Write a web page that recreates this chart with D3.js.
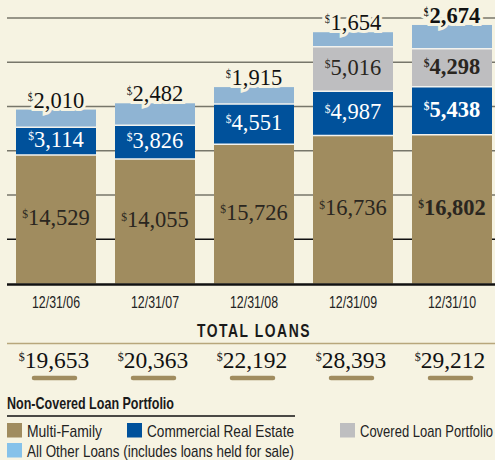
<!DOCTYPE html>
<html lang="en">
<head>
<meta charset="utf-8">
<title>Total Loans</title>
<script src="https://d3js.org/d3.v7.min.js"></script>
<style>
  html, body { margin: 0; padding: 0; background: #F6F3E2; }
  svg { display: block; }
  .serif { font-family: "Liberation Serif", "DejaVu Serif", serif; }
  .narrow { font-family: "Liberation Sans Narrow", "Liberation Sans", Arial, sans-serif; }
</style>
</head>
<body>
<svg id="chart" width="495" height="460"></svg>
<script>
// data (in thousands of $)
const dates = ["12/31/06", "12/31/07", "12/31/08", "12/31/09", "12/31/10"];
const multiFamily = [14529, 14055, 15726, 16736, 16802];
const commercial = [3114, 3826, 4551, 4987, 5438];
const covered = [0, 0, 0, 5016, 4298];
const otherLoans = [2010, 2482, 1915, 1654, 2674];
const totals = [19653, 20363, 22192, 28393, 29212];
const gridTicks = [5000, 10000, 15000, 20000, 25000, 30000];

const seriesNames = ["Multi-Family", "Commercial Real Estate", "Covered Loan Portfolio", "All Other Loans"];
const colors = ["#A08C5F", "#00519B", "#BEBEC0", "#8FB4D3"];
const labelColors = ["#2a2620", "#ffffff", "#2a2620", "#111111"];

const bg = "#F6F3E2";
const svg = d3.select("#chart");

const x = d3.scaleBand()
  .domain(dates)
  .range([6.5, 501.5])
  .paddingInner(0.192)
  .paddingOuter(0.096);

const y = d3.scaleLinear()
  .domain([0, 32000])
  .range([283.5, 0.3]);

// grid lines
svg.append("g")
  .selectAll("line")
  .data(gridTicks)
  .join("line")
  .attr("x1", 7).attr("x2", 495)
  .attr("y1", d => y(d)).attr("y2", d => y(d))
  .attr("stroke", d => d <= 5000 ? "#111" : "#77766a")
  .attr("stroke-width", 1.5);

// stack rows
const rows = dates.map((d, i) => ({
  date: d,
  values: [multiFamily[i], commercial[i], covered[i], otherLoans[i]]
}));

const segs = [];
rows.forEach((r, i) => {
  let base = 0;
  r.values.forEach((v, k) => {
    if (v > 0) segs.push({ date: r.date, k: k, y0: base, y1: base + v, v: v, last: i === rows.length - 1 });
    base += v;
  });
});

const bars = svg.append("g");
bars.selectAll("rect")
  .data(segs)
  .join("rect")
  .attr("x", d => x(d.date))
  .attr("width", x.bandwidth())
  .attr("y", d => y(d.y1))
  .attr("height", d => y(d.y0) - y(d.y1))
  .attr("fill", d => colors[d.k]);

// thin white separators between segments
bars.selectAll("line")
  .data(segs.filter(d => d.y0 > 0))
  .join("line")
  .attr("x1", d => x(d.date)).attr("x2", d => x(d.date) + x.bandwidth())
  .attr("y1", d => y(d.y0)).attr("y2", d => y(d.y0))
  .attr("stroke", "#f2f2ee")
  .attr("stroke-width", 1.5);

// baseline
svg.append("line")
  .attr("x1", 7).attr("x2", 495)
  .attr("y1", y(0) + 1).attr("y2", y(0) + 1)
  .attr("stroke", "#111").attr("stroke-width", 2.5);

const fmt = d3.format(",");

function money(sel, size, supSize) {
  sel.append("tspan")
    .attr("font-size", supSize)
    .attr("dy", -size * 0.3)
    .text("$");
  sel.append("tspan")
    .attr("font-size", size)
    .attr("dy", size * 0.3)
    .text(d => fmt(d.v));
}

// value labels
const labels = svg.append("g").attr("class", "serif");
labels.selectAll("text")
  .data(segs)
  .join("text")
  .attr("x", d => x(d.date) + x.bandwidth() / 2)
  .attr("y", d => d.k === 3 ? y(d.y1) - 2 : (y(d.y0) + y(d.y1)) / 2 + 6)
  .attr("text-anchor", "middle")
  .attr("fill", d => labelColors[d.k])
  .attr("font-weight", d => d.last ? "bold" : "normal")
  .attr("stroke", d => d.k === 3 ? bg : "none")
  .attr("stroke-width", 6)
  .attr("paint-order", "stroke")
  .call(money, 22.5, 11.5);

// x axis labels
svg.append("g").attr("class", "narrow")
  .selectAll("text")
  .data(dates)
  .join("text")
  .attr("x", d => x(d) + x.bandwidth() / 2)
  .attr("y", 308)
  .attr("text-anchor", "middle")
  .attr("font-size", 17)
  .attr("fill", "#222")
  .attr("textLength", 48)
  .attr("lengthAdjust", "spacingAndGlyphs")
  .text(d => d);

// total loans header
svg.append("text")
  .attr("class", "narrow")
  .attr("x", 197).attr("y", 337)
  .attr("font-size", 18)
  .attr("font-weight", "bold")
  .attr("letter-spacing", 2)
  .attr("fill", "#1a1a1a")
  .attr("textLength", 114)
  .attr("lengthAdjust", "spacingAndGlyphs")
  .text("TOTAL LOANS");

svg.append("line")
  .attr("x1", 7).attr("x2", 495)
  .attr("y1", 343.5).attr("y2", 343.5)
  .attr("stroke", "#B8A77C").attr("stroke-width", 1.5);

const tot = svg.append("g").attr("class", "serif")
  .selectAll("g")
  .data(dates.map((d, i) => ({ date: d, v: totals[i] })))
  .join("g");

tot.append("text")
  .attr("x", d => x(d.date) + x.bandwidth() / 2 - 2)
  .attr("y", 368)
  .attr("text-anchor", "middle")
  .attr("fill", "#111")
  .call(money, 23.5, 12);

tot.append("line")
  .attr("x1", d => x(d.date) + x.bandwidth() / 2 - 22)
  .attr("x2", d => x(d.date) + x.bandwidth() / 2 + 19)
  .attr("y1", 378).attr("y2", 378)
  .attr("stroke", "#A08C5F")
  .attr("stroke-width", 4.5)
  .attr("stroke-linecap", "round");

// legend
const legend = svg.append("g").attr("class", "narrow");
legend.append("text")
  .attr("x", 7).attr("y", 409)
  .attr("font-size", 16.5)
  .attr("font-weight", "bold")
  .attr("fill", "#1a1a1a")
  .attr("textLength", 167)
  .attr("lengthAdjust", "spacingAndGlyphs")
  .text("Non-Covered Loan Portfolio");
legend.append("line")
  .attr("x1", 7).attr("x2", 295)
  .attr("y1", 416).attr("y2", 416)
  .attr("stroke", "#111").attr("stroke-width", 1.5);

const legendItems = [
  { name: seriesNames[0], color: colors[0], x: 7, y: 423, w: 75 },
  { name: seriesNames[1], color: colors[1], x: 127, y: 423, w: 147 },
  { name: seriesNames[2], color: colors[2], x: 340, y: 423, w: 133 },
  { name: "All Other Loans (includes loans held for sale)", color: "#86C2EA", x: 7, y: 443, w: 267 }
];

const li = legend.selectAll("g.item")
  .data(legendItems)
  .join("g").attr("class", "item");
li.append("rect")
  .attr("x", d => d.x).attr("y", d => d.y)
  .attr("width", 15).attr("height", 14.5)
  .attr("fill", d => d.color);
li.append("text")
  .attr("x", d => d.x + 20).attr("y", d => d.y + 13.5)
  .attr("font-size", 17)
  .attr("fill", "#222")
  .attr("textLength", d => d.w)
  .attr("lengthAdjust", "spacingAndGlyphs")
  .text(d => d.name);
</script>
</body>
</html>
